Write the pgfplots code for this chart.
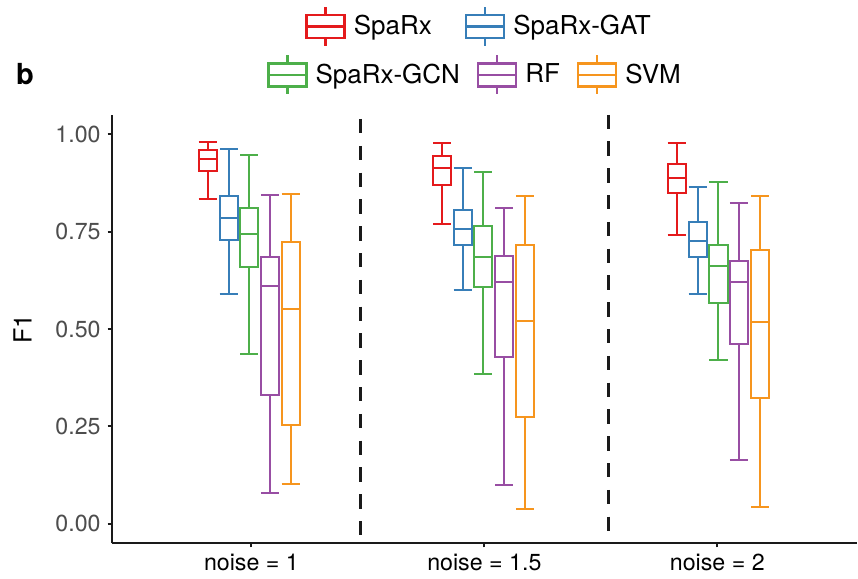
\documentclass[border=0pt]{standalone}
\usepackage{pgfplots}
\pgfplotsset{compat=1.18}
\usepgfplotslibrary{statistics}
\usepackage{fontspec}
\setmainfont{TeX Gyre Heros}

\definecolor{cSpa}{HTML}{E41A1C}
\definecolor{cGAT}{HTML}{377EB8}
\definecolor{cGCN}{HTML}{4DAF4A}
\definecolor{cRF}{HTML}{984EA3}
\definecolor{cSVM}{HTML}{F6951E}
\definecolor{tickgray}{HTML}{4D4D4D}
\definecolor{axisblack}{HTML}{1A1A1A}

% one prepared box: colour, position, lower whisker, Q1, median, Q3, upper whisker
\newcommand{\bx}[7]{%
  \addplot[#1, solid, line width=1pt, forget plot,
    boxplot prepared={draw position=#2, lower whisker=#3, lower quartile=#4,
      median=#5, upper quartile=#6, upper whisker=#7}]
    coordinates {};}

\pgfplotsset{
  boxleg/.style={legend image code/.code={
    \draw[##1, solid, line width=1.2pt] (0pt,-5.75pt) rectangle (19pt,5.75pt);
    \draw[##1, solid, line width=1.2pt] (0pt,0pt) -- (19pt,0pt);
    \draw[##1, solid, line width=1.2pt] (9.5pt,5.75pt) -- (9.5pt,9.75pt);
    \draw[##1, solid, line width=1.2pt] (9.5pt,-5.75pt) -- (9.5pt,-9.75pt);
  }},
  frame/.style={
    scale only axis, width=372.65pt, height=214.15pt,
    xmin=0.4, xmax=3.6, ymin=-0.05, ymax=1.05,
    clip=false,
  },
}

\begin{document}
\begin{tikzpicture}
\useasboundingbox (-55.85pt,-17.85pt) rectangle (373.15pt,271.65pt);
\begin{axis}[frame,
  axis x line=bottom, axis y line=left,
  axis line style={-, line width=1.1pt, axisblack},
  tick align=outside, major tick length=2pt,
  tick style={line width=1pt, axisblack},
  xtick={1,2,3},
  xticklabels={{noise = 1},{noise = 1.5},{noise = 2}},
  ytick={0,0.25,0.5,0.75,1},
  /pgf/number format/.cd, fixed, fixed zerofill, precision=2, assume math mode=true,
  /pgfplots/.cd,
  xticklabel style={font=\fontsize{11.6}{14}\selectfont, text=black},
  yticklabel style={font=\fontsize{11.6}{14}\selectfont, text=tickgray},
  ylabel={F1},
  ylabel style={at={(axis description cs:-0.1197,0.5)}, anchor=center,
    font=\fontsize{12.5}{15}\selectfont},
  boxplot/draw direction=y,
  boxplot/box extend=0.078,
  boxplot/whisker extend=0.078,
  legend style={draw=none, fill=none, inner sep=0pt,
    at={(0.2594,1.2062)}, anchor=west,
    font=\fontsize{13}{15.6}\selectfont,
    /tikz/every odd column/.append style={column sep=2pt},
    /tikz/every even column/.append style={column sep=14.5pt}},
  legend columns=2,
]
% separators between noise levels
\addplot[axisblack, line width=1.4pt, dash pattern=on 7.2pt off 6.2pt, dash phase=11.4pt, forget plot]
  coordinates {(1.468,1.05) (1.468,-0.05)};
\addplot[axisblack, line width=1.4pt, dash pattern=on 7.2pt off 6.2pt, dash phase=0.2pt, forget plot]
  coordinates {(2.532,1.05) (2.532,-0.05)};

% noise = 1
\bx{cSpa}{0.812}{0.834}{0.906}{0.936}{0.961}{0.980}
\bx{cGAT}{0.902}{0.590}{0.730}{0.785}{0.843}{0.963}
\bx{cGCN}{0.991}{0.435}{0.659}{0.745}{0.811}{0.948}
\bx{cRF}{1.081}{0.080}{0.330}{0.610}{0.685}{0.845}
\bx{cSVM}{1.169}{0.103}{0.253}{0.552}{0.723}{0.848}
% noise = 1.5
\bx{cSpa}{1.819}{0.769}{0.870}{0.915}{0.944}{0.977}
\bx{cGAT}{1.907}{0.600}{0.715}{0.757}{0.805}{0.914}
\bx{cGCN}{1.996}{0.384}{0.608}{0.685}{0.764}{0.904}
\bx{cRF}{2.086}{0.100}{0.429}{0.620}{0.687}{0.810}
\bx{cSVM}{2.175}{0.039}{0.274}{0.520}{0.715}{0.841}
% noise = 2
\bx{cSpa}{2.826}{0.741}{0.850}{0.888}{0.925}{0.978}
\bx{cGAT}{2.916}{0.589}{0.685}{0.726}{0.775}{0.865}
\bx{cGCN}{3.005}{0.420}{0.567}{0.661}{0.716}{0.877}
\bx{cRF}{3.093}{0.163}{0.461}{0.620}{0.674}{0.823}
\bx{cSVM}{3.184}{0.043}{0.324}{0.518}{0.704}{0.841}

\addlegendimage{cSpa, boxleg}
\addlegendentry{SpaRx}
\addlegendimage{cGAT, boxleg}
\addlegendentry{SpaRx-GAT}

\node[font=\bfseries\fontsize{14.5}{17}\selectfont, anchor=center]
  at (axis description cs:-0.1163,1.0957) {b};
\end{axis}

% second legend row
\begin{axis}[frame, hide axis,
  legend style={draw=none, fill=none, inner sep=0pt,
    at={(0.2080,1.0934)}, anchor=west,
    font=\fontsize{13}{15.6}\selectfont,
    /tikz/every odd column/.append style={column sep=2pt},
    /tikz/every even column/.append style={column sep=6.5pt}},
  legend columns=3,
]
\addlegendimage{cGCN, boxleg}
\addlegendentry{SpaRx-GCN}
\addlegendimage{cRF, boxleg}
\addlegendentry{RF}
\addlegendimage{cSVM, boxleg}
\addlegendentry{SVM}
\end{axis}
\end{tikzpicture}
\end{document}
